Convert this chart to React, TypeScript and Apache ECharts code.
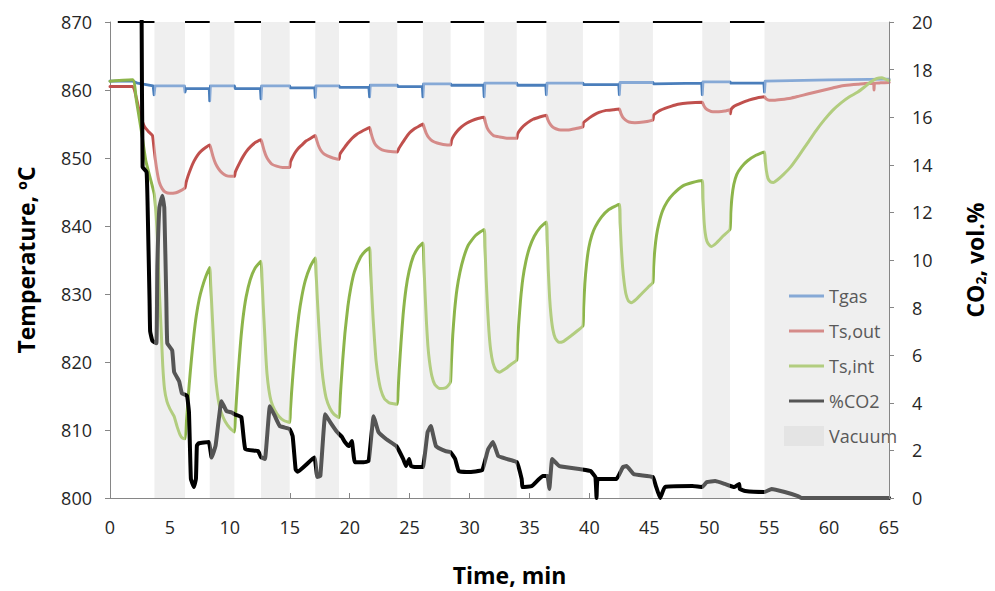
import React, { useEffect, useRef } from 'react';
import * as echarts from 'echarts';

// Vacuum periods (min)
const VAC_START = [3.71, 8.32, 12.6, 17.13, 21.66, 26.11, 31.22, 36.41, 42.5, 49.42, 54.61];
const VAC_END = [6.26, 10.38, 14.99, 19.11, 23.97, 28.42, 33.94, 39.46, 45.3, 51.73, 65];
const TOP_BORDER_START = 0.65;

const X_TICKS = { min: 0, max: 65, interval: 5 };
const T_TICKS = { min: 800, max: 870, interval: 10 };
const CO2_TICKS = { min: 0, max: 20, interval: 2 };

const T_GAS: [number, number][] = [
  [0, 861.3], [1.9, 861.3], [2.3, 861.0], [3.6, 860.6], [3.68, 859.3], [3.76, 860.6], [6.2, 860.6], [6.26, 859.7], [6.32, 860.2],
  [8.28, 860.2], [8.32, 858.4], [8.38, 860.6], [10.38, 860.6], [10.45, 860.2], [12.55, 860.2], [12.6, 858.7], [12.66, 860.6],
  [14.99, 860.6], [15.05, 860.3], [17.08, 860.3], [17.13, 858.9], [17.19, 860.6], [19.11, 860.6], [19.17, 860.4], [21.6, 860.4],
  [21.66, 859.0], [21.72, 860.7], [23.97, 860.7], [24.03, 860.5], [26.06, 860.5], [26.11, 859.0], [26.17, 860.9], [28.42, 860.9],
  [28.48, 860.7], [31.17, 860.7], [31.22, 859.0], [31.28, 861.0], [33.94, 861.0], [34.0, 860.7], [36.36, 860.7], [36.41, 859.3],
  [36.47, 861.0], [39.46, 861.0], [39.52, 860.8], [42.45, 860.8], [42.5, 859.3], [42.56, 861.1], [45.3, 861.1], [45.36, 860.9],
  [49.37, 861.0], [49.42, 859.3], [49.48, 861.2], [51.73, 861.2], [51.8, 861.0], [54.56, 861.0], [54.61, 859.7], [54.67, 861.3],
  [60, 861.5], [65, 861.6],
];

const TS_OUT: [number, number][] = [
  [0, 860.5], [1.9, 860.5], [2.2, 858.8], [2.5, 856.5], [2.88, 854.6], [3.2, 853.9], [3.54, 853.3], [3.65, 851.8], [3.78, 849.8],
  [3.95, 847.8], [4.12, 846.4], [4.35, 845.5], [4.6, 845.0], [5.0, 844.8], [5.5, 844.9], [5.9, 845.2], [6.26, 845.6],
  [6.35, 846.4], [6.5, 847.3], [6.75, 848.5], [7.0, 849.5], [7.3, 850.4], [7.6, 851.0], [7.95, 851.5], [8.32, 851.9],
  [8.45, 851.2], [8.6, 850.2], [8.8, 849.2], [9.06, 848.4], [9.35, 847.8], [9.7, 847.4], [10.05, 847.3], [10.38, 847.3],
  [10.45, 847.9], [10.6, 848.5], [10.85, 849.4], [11.1, 850.2], [11.4, 851.0], [11.75, 851.7], [12.15, 852.3], [12.6, 852.7],
  [12.72, 852.0], [12.88, 851.0], [13.05, 850.2], [13.25, 849.6], [13.5, 849.1], [13.9, 848.8], [14.4, 848.6], [14.99, 848.6],
  [15.05, 849.4], [15.2, 850.0], [15.45, 850.8], [15.7, 851.4], [16.0, 851.9], [16.35, 852.5], [16.75, 852.9], [17.13, 853.3],
  [17.25, 852.6], [17.4, 851.8], [17.6, 851.1], [17.85, 850.6], [18.15, 850.3], [18.6, 850.0], [19.11, 849.8],
  [19.17, 850.5], [19.3, 850.9], [19.55, 851.5], [19.85, 852.2], [20.2, 852.9], [20.6, 853.5], [21.1, 854.0], [21.66, 854.5],
  [21.78, 853.7], [21.93, 852.8], [22.1, 852.1], [22.35, 851.6], [22.7, 851.2], [23.2, 851.0], [23.97, 850.9],
  [24.1, 851.4], [24.35, 852.1], [24.65, 852.9], [25.0, 853.7], [25.4, 854.3], [25.8, 854.7], [26.11, 855.0],
  [26.23, 854.4], [26.4, 853.6], [26.6, 853.0], [26.9, 852.5], [27.3, 852.2], [27.8, 852.0], [28.42, 851.9],
  [28.5, 852.6], [28.7, 853.3], [29.0, 854.0], [29.35, 854.6], [29.75, 855.1], [30.2, 855.5], [30.7, 855.8], [31.22, 856.0],
  [31.33, 855.2], [31.48, 854.4], [31.7, 853.8], [32.0, 853.3], [32.5, 853.1], [33.2, 852.9], [33.94, 852.9],
  [34.0, 853.5], [34.2, 854.1], [34.5, 854.7], [34.85, 855.2], [35.3, 855.7], [35.8, 856.0], [36.41, 856.3],
  [36.52, 855.7], [36.68, 855.1], [36.9, 854.6], [37.2, 854.3], [37.6, 854.1], [38.2, 854.1], [38.8, 854.3], [39.46, 854.6],
  [39.5, 855.2], [39.7, 855.5], [40.0, 855.9], [40.35, 856.3], [40.8, 856.7], [41.4, 857.0], [42.0, 857.1], [42.5, 857.2],
  [42.62, 856.6], [42.78, 856.0], [43.0, 855.6], [43.3, 855.3], [43.8, 855.2], [44.5, 855.3], [45.3, 855.6],
  [45.36, 856.3], [45.55, 856.6], [45.9, 857.0], [46.3, 857.3], [46.8, 857.6], [47.4, 857.9], [48.2, 858.1], [49.42, 858.2],
  [49.55, 857.7], [49.7, 857.3], [49.95, 857.0], [50.3, 856.8], [50.8, 856.8], [51.3, 856.9], [51.73, 857.1], [51.76, 856.5],
  [51.82, 857.1], [52.0, 857.5], [52.3, 857.8], [52.7, 858.1], [53.3, 858.5], [53.9, 858.8], [54.61, 859.0],
  [54.75, 858.7], [55.0, 858.5], [55.4, 858.5], [56.0, 858.6], [56.8, 858.8], [57.5, 859.1], [58.2, 859.4], [58.9, 859.7],
  [59.6, 860.0], [60.3, 860.3], [61.0, 860.6], [61.7, 860.75], [62.4, 860.85], [63.0, 860.95], [63.7, 861.0], [63.75, 860.0],
  [63.8, 861.0], [64.3, 861.05], [65, 861.1],
];

const TS_INT: [number, number][] = [
  [0, 861.3], [1.9, 861.5], [2.2, 858.5], [2.64, 853.7], [3.0, 849.5], [3.54, 845.8], [3.7, 844.6], [3.85, 841.5], [3.95, 838.5],
  [4.1, 831.0], [4.28, 824.3], [4.4, 819.5], [4.55, 816.0], [4.75, 814.2], [5.0, 813.1], [5.35, 812.0], [5.6, 810.5],
  [5.85, 809.3], [6.05, 808.8], [6.26, 808.7],
  [6.35, 810.5], [6.45, 813.0], [6.6, 816.5], [6.8, 820.5], [7.0, 824.0], [7.2, 826.8], [7.45, 829.3], [7.7, 831.0], [8.0, 832.6], [8.32, 833.9],
  [8.4, 831.5], [8.5, 828.0], [8.6, 824.5], [8.7, 821.0], [8.8, 818.0], [8.95, 815.5], [9.1, 813.8], [9.3, 812.5], [9.6, 811.3],
  [10.0, 810.3], [10.38, 809.7],
  [10.45, 811.5], [10.55, 814.5], [10.7, 818.5], [10.9, 823.0], [11.1, 826.5], [11.35, 829.5], [11.7, 832.1], [12.1, 833.8], [12.6, 834.8],
  [12.68, 832.5], [12.78, 828.5], [12.9, 824.5], [13.0, 821.0], [13.1, 818.3], [13.25, 816.0], [13.45, 814.2], [13.75, 812.9],
  [14.1, 812.0], [14.5, 811.4], [14.99, 811.1],
  [15.05, 812.8], [15.15, 815.5], [15.3, 819.0], [15.5, 823.0], [15.75, 826.8], [16.0, 829.6], [16.3, 832.0], [16.7, 834.0], [17.13, 835.3],
  [17.2, 833.0], [17.3, 829.3], [17.42, 825.5], [17.55, 822.0], [17.68, 819.0], [17.85, 816.5], [18.05, 814.6], [18.35, 813.2],
  [18.7, 812.3], [19.11, 811.8],
  [19.17, 813.5], [19.27, 816.5], [19.42, 820.3], [19.6, 824.2], [19.85, 828.2], [20.1, 831.0], [20.4, 833.3], [20.9, 835.4],
  [21.3, 836.3], [21.66, 836.8],
  [21.73, 834.5], [21.83, 830.5], [21.95, 826.5], [22.08, 823.0], [22.2, 820.2], [22.38, 817.8], [22.6, 815.9], [22.9, 814.6],
  [23.3, 814.0], [23.97, 813.8],
  [24.03, 815.5], [24.13, 818.8], [24.28, 822.8], [24.46, 827.0], [24.7, 830.8], [24.96, 833.4], [25.3, 835.5], [25.7, 836.8], [26.11, 837.5],
  [26.18, 835.0], [26.28, 830.5], [26.4, 826.0], [26.52, 822.5], [26.65, 820.2], [26.85, 818.0], [27.1, 816.7], [27.5, 816.1],
  [28.0, 816.2], [28.3, 816.7], [28.42, 817.2],
  [28.5, 820.5], [28.6, 824.0], [28.75, 827.5], [28.95, 830.7], [29.2, 833.2], [29.5, 835.3], [29.9, 837.2], [30.5, 838.6], [31.22, 839.5],
  [31.29, 837.0], [31.38, 832.5], [31.5, 828.0], [31.62, 824.5], [31.76, 821.8], [31.95, 819.9], [32.2, 818.8], [32.5, 818.5],
  [33.0, 819.0], [33.5, 819.7], [33.94, 820.3],
  [34.0, 822.5], [34.1, 825.5], [34.25, 829.0], [34.45, 832.3], [34.7, 834.8], [35.0, 836.8], [35.4, 838.5], [35.9, 839.8], [36.41, 840.6],
  [36.48, 838.0], [36.57, 833.5], [36.68, 829.5], [36.8, 826.8], [36.95, 824.8], [37.15, 823.5], [37.45, 822.9], [37.8, 823.0],
  [38.5, 823.9], [39.0, 824.6], [39.46, 825.3],
  [39.52, 828.0], [39.62, 831.5], [39.77, 834.5], [39.95, 836.8], [40.2, 838.6], [40.5, 839.9], [41.0, 841.3], [41.6, 842.4], [42.5, 843.2],
  [42.57, 840.5], [42.66, 837.0], [42.77, 834.0], [42.9, 831.7], [43.05, 830.0], [43.25, 829.0], [43.5, 828.7], [43.9, 829.2],
  [44.4, 830.1], [44.9, 831.0], [45.3, 831.7],
  [45.36, 834.0], [45.46, 836.5], [45.6, 838.6], [45.8, 840.4], [46.1, 842.2], [46.5, 843.6], [47.0, 844.7], [47.8, 845.9],
  [48.6, 846.4], [49.42, 846.7],
  [49.48, 844.0], [49.56, 841.0], [49.66, 839.0], [49.8, 837.8], [50.0, 837.2], [50.2, 837.0], [50.6, 837.5], [51.2, 838.6], [51.73, 839.5],
  [51.8, 842.0], [51.9, 844.3], [52.05, 846.1], [52.3, 847.6], [52.7, 848.7], [53.2, 849.6], [53.9, 850.4], [54.61, 850.9],
  [54.68, 849.5], [54.78, 848.0], [54.9, 847.0], [55.1, 846.5], [55.35, 846.4], [55.7, 846.8], [56.2, 847.6], [56.8, 848.7],
  [57.5, 850.4], [58.2, 852.2], [58.9, 854.0], [59.6, 855.6], [60.3, 857.0], [61.0, 858.1], [61.7, 859.0], [62.4, 859.7],
  [63.0, 860.5], [63.5, 861.2], [64.0, 861.7], [64.4, 861.8], [64.7, 861.6], [65, 861.4],
];

const CO2: [number, number][] = [
  [0, 21], [2.6, 21], [2.64, 20], [2.72, 13.9], [3.05, 13.7], [3.13, 12.5], [3.3, 8.3], [3.35, 7.0], [3.54, 6.6], [3.87, 6.5],
  [3.95, 9.7], [4.12, 12.2], [4.37, 12.7], [4.53, 12.2], [4.7, 8.3], [4.78, 6.5], [5.19, 6.2], [5.35, 5.3], [5.77, 4.9], [6.0, 4.4],
  [6.42, 4.3], [6.59, 3.6], [6.75, 0.8], [7.0, 0.46], [7.17, 0.8], [7.25, 2.2], [7.41, 2.3], [8.24, 2.35], [8.48, 1.7], [8.81, 2.2],
  [9.3, 4.07], [9.72, 3.65], [10.13, 3.6], [10.46, 3.5], [10.96, 3.4], [11.29, 2.05], [12.36, 1.97], [12.6, 1.72], [12.93, 1.64],
  [13.34, 3.86], [13.76, 3.44], [14.17, 3.02], [14.99, 2.9], [15.24, 2.6], [15.49, 1.2], [15.65, 1.1], [17.05, 1.7], [17.3, 0.88],
  [17.55, 0.92], [17.96, 3.52], [18.37, 3.19], [18.95, 2.77], [19.36, 2.56], [19.6, 2.35], [19.93, 2.18], [20.18, 2.39], [20.43, 1.5],
  [21.17, 1.5], [21.58, 1.55], [22.0, 3.44], [22.4, 2.77], [23.06, 2.47], [23.9, 2.18], [24.46, 1.64], [24.7, 1.34], [24.96, 1.64],
  [25.12, 1.34], [25.5, 1.3], [26.1, 1.3], [26.5, 2.77], [26.77, 3.02], [27.2, 2.18], [28.0, 1.97], [28.4, 1.93], [28.8, 1.64],
  [29.1, 1.13], [29.9, 1.09], [31.05, 1.17], [31.55, 2.05], [31.96, 2.35], [32.4, 1.76], [33.1, 1.64], [33.94, 1.51], [34.35, 0.8],
  [34.43, 0.46], [35.2, 0.5], [36.1, 0.92], [36.5, 0.92], [36.66, 0.38], [36.9, 1.64], [37.5, 1.34], [39.4, 1.2], [40.1, 1.13],
  [40.5, 0.88], [40.6, 0], [40.7, 0.8], [42.26, 0.8], [42.8, 1.3], [43.1, 1.34], [43.7, 1.0], [45.3, 0.88], [45.55, 0.5], [45.9, 0],
  [46.3, 0.46], [48.6, 0.5], [49.4, 0.46], [49.8, 0.67], [50.5, 0.71], [51.3, 0.59], [52.1, 0.46], [52.5, 0.59], [52.55, 0.38],
  [53.0, 0.29], [54.6, 0.25], [55.2, 0.38], [56.3, 0.25], [57.4, 0.08], [57.7, 0], [65, 0],
];

const COLORS = {
  tgas: { dark: '#4a7ebb', light: '#86a9d6' },
  tsout: { dark: '#c0504d', light: '#d58b89' },
  tsint: { dark: '#8db54b', light: '#b2cd7f' },
  co2: { dark: '#000000', light: '#555555' },
  vacuum: '#efefef',
  vacuumLegend: '#e4e4e4',
};

const FONT = 'Open Sans';

export default function App() {
  const ref = useRef<HTMLDivElement>(null);

  useEffect(() => {
    const chart = echarts.init(ref.current as HTMLDivElement, null, { renderer: 'svg' });

    const vacPieces = VAC_START.map((s, i) => ({ gte: s, lte: VAC_END[i] }));
    const mkVM = (idx: number, c: { dark: string; light: string }) => ({
      type: 'piecewise',
      show: false,
      dimension: 0,
      seriesIndex: idx,
      pieces: vacPieces.map((p) => ({ ...p, color: c.light })),
      outOfRange: { color: c.dark },
    });

    const gaps: [number, number][] = [[TOP_BORDER_START, VAC_START[0]]];
    for (let i = 0; i < VAC_START.length - 1; i++) gaps.push([VAC_END[i], VAC_START[i + 1]]);
    const borderData: any[] = [];
    gaps.forEach(([a, b]) => {
      borderData.push([a, CO2_TICKS.max], [b, CO2_TICKS.max], [b, '-']);
    });

    const lineSeries = (name: string, data: [number, number][], yIdx: number, width: number, smooth: number) => ({
      name,
      type: 'line',
      data,
      yAxisIndex: yIdx,
      showSymbol: false,
      symbol: 'none',
      smooth,
      lineStyle: { width, join: 'round', cap: 'round' },
      z: 3,
    });

    const axisLabel = { color: '#262626', fontSize: 18, fontFamily: FONT };
    const axisLine = { show: true, lineStyle: { color: '#868686', width: 1 } };
    const titleStyle = { fontSize: 23, fontWeight: 'bold', color: '#000', fontFamily: FONT };

    chart.setOption({
      animation: false,
      backgroundColor: '#ffffff',
      textStyle: { fontFamily: FONT },
      grid: { left: 110, right: 96, top: 22, bottom: 92, containLabel: false },
      xAxis: {
        type: 'value',
        min: X_TICKS.min,
        max: X_TICKS.max,
        interval: X_TICKS.interval,
        axisLine,
        axisTick: { show: true, inside: true, length: 5, lineStyle: { color: '#868686' } },
        axisLabel: { ...axisLabel, margin: 20 },
        splitLine: { show: false },
        name: 'Time, min',
        nameLocation: 'middle',
        nameGap: 65,
        nameTextStyle: { ...titleStyle, padding: [0, 0, 0, 20] },
      },
      yAxis: [
        {
          type: 'value',
          position: 'left',
          min: T_TICKS.min,
          max: T_TICKS.max,
          interval: T_TICKS.interval,
          axisLine,
          axisTick: { show: true, inside: false, length: 5, lineStyle: { color: '#868686' } },
          axisLabel: { ...axisLabel, margin: 18 },
          splitLine: { show: false },
          name: 'Temperature, ºC',
          nameLocation: 'middle',
          nameRotate: 90,
          nameGap: 73,
          nameTextStyle: { ...titleStyle },
        },
        {
          type: 'value',
          position: 'right',
          min: CO2_TICKS.min,
          max: CO2_TICKS.max,
          interval: CO2_TICKS.interval,
          axisLine,
          axisTick: { show: true, inside: false, length: 5, lineStyle: { color: '#868686' } },
          axisLabel: { ...axisLabel, margin: 23 },
          splitLine: { show: false },
          z: 4,
          name: '{a|CO}{b|2}{a|, vol.%}',
          nameLocation: 'middle',
          nameRotate: 90,
          nameGap: 74,
          nameTextStyle: {
            rich: {
              a: { ...titleStyle },
              b: { fontSize: 14, fontWeight: 'bold', color: '#000', fontFamily: FONT, padding: [10, 0, 0, 0] },
            },
          },
        },
      ],
      visualMap: [mkVM(0, COLORS.tgas), mkVM(1, COLORS.tsout), mkVM(2, COLORS.tsint), mkVM(3, COLORS.co2)],
      legend: [
        {
          data: [
            { name: 'Tgas', itemStyle: { color: COLORS.tgas.light } },
            { name: 'Ts,out', itemStyle: { color: COLORS.tsout.light } },
            { name: 'Ts,int', itemStyle: { color: COLORS.tsint.light } },
            { name: '%CO2', itemStyle: { color: COLORS.co2.light } },
          ],
          orient: 'vertical',
          left: 784,
          top: 282,
          itemWidth: 35,
          itemHeight: 3,
          itemGap: 17,
          icon: 'rect',
          selectedMode: false,
          textStyle: { fontSize: 18, color: '#595959', fontFamily: FONT },
        },
        {
          data: [{ name: 'Vacuum', itemStyle: { color: COLORS.vacuumLegend } }],
          orient: 'vertical',
          left: 779,
          top: 421,
          itemWidth: 40,
          itemHeight: 20,
          itemGap: 3,
          icon: 'rect',
          selectedMode: false,
          textStyle: { fontSize: 18, color: '#595959', fontFamily: FONT },
        },
      ],
      series: [
        lineSeries('Tgas', T_GAS, 0, 2.8, 0),
        lineSeries('Ts,out', TS_OUT, 0, 3, 0.15),
        lineSeries('Ts,int', TS_INT, 0, 3, 0.15),
        lineSeries('%CO2', CO2, 1, 4, 0.1),
        {
          name: 'Vacuum',
          type: 'line',
          data: [],
          yAxisIndex: 0,
          itemStyle: { color: COLORS.vacuumLegend },
          markArea: {
            silent: true,
            itemStyle: { color: COLORS.vacuum },
            data: VAC_START.map((s, i) => [{ xAxis: s }, { xAxis: VAC_END[i] }]),
          },
        },
        {
          name: 'topBorder',
          type: 'line',
          data: borderData,
          yAxisIndex: 1,
          symbol: 'none',
          showSymbol: false,
          clip: false,
          silent: true,
          lineStyle: { color: '#000', width: 2 },
          z: 2,
        },
      ],
    });

    return () => chart.dispose();
  }, []);

  return (
    <div
      ref={ref}
      style={{ position: 'fixed', left: 0, top: 0, width: 995, height: 591, background: '#fff' }}
    />
  );
}
